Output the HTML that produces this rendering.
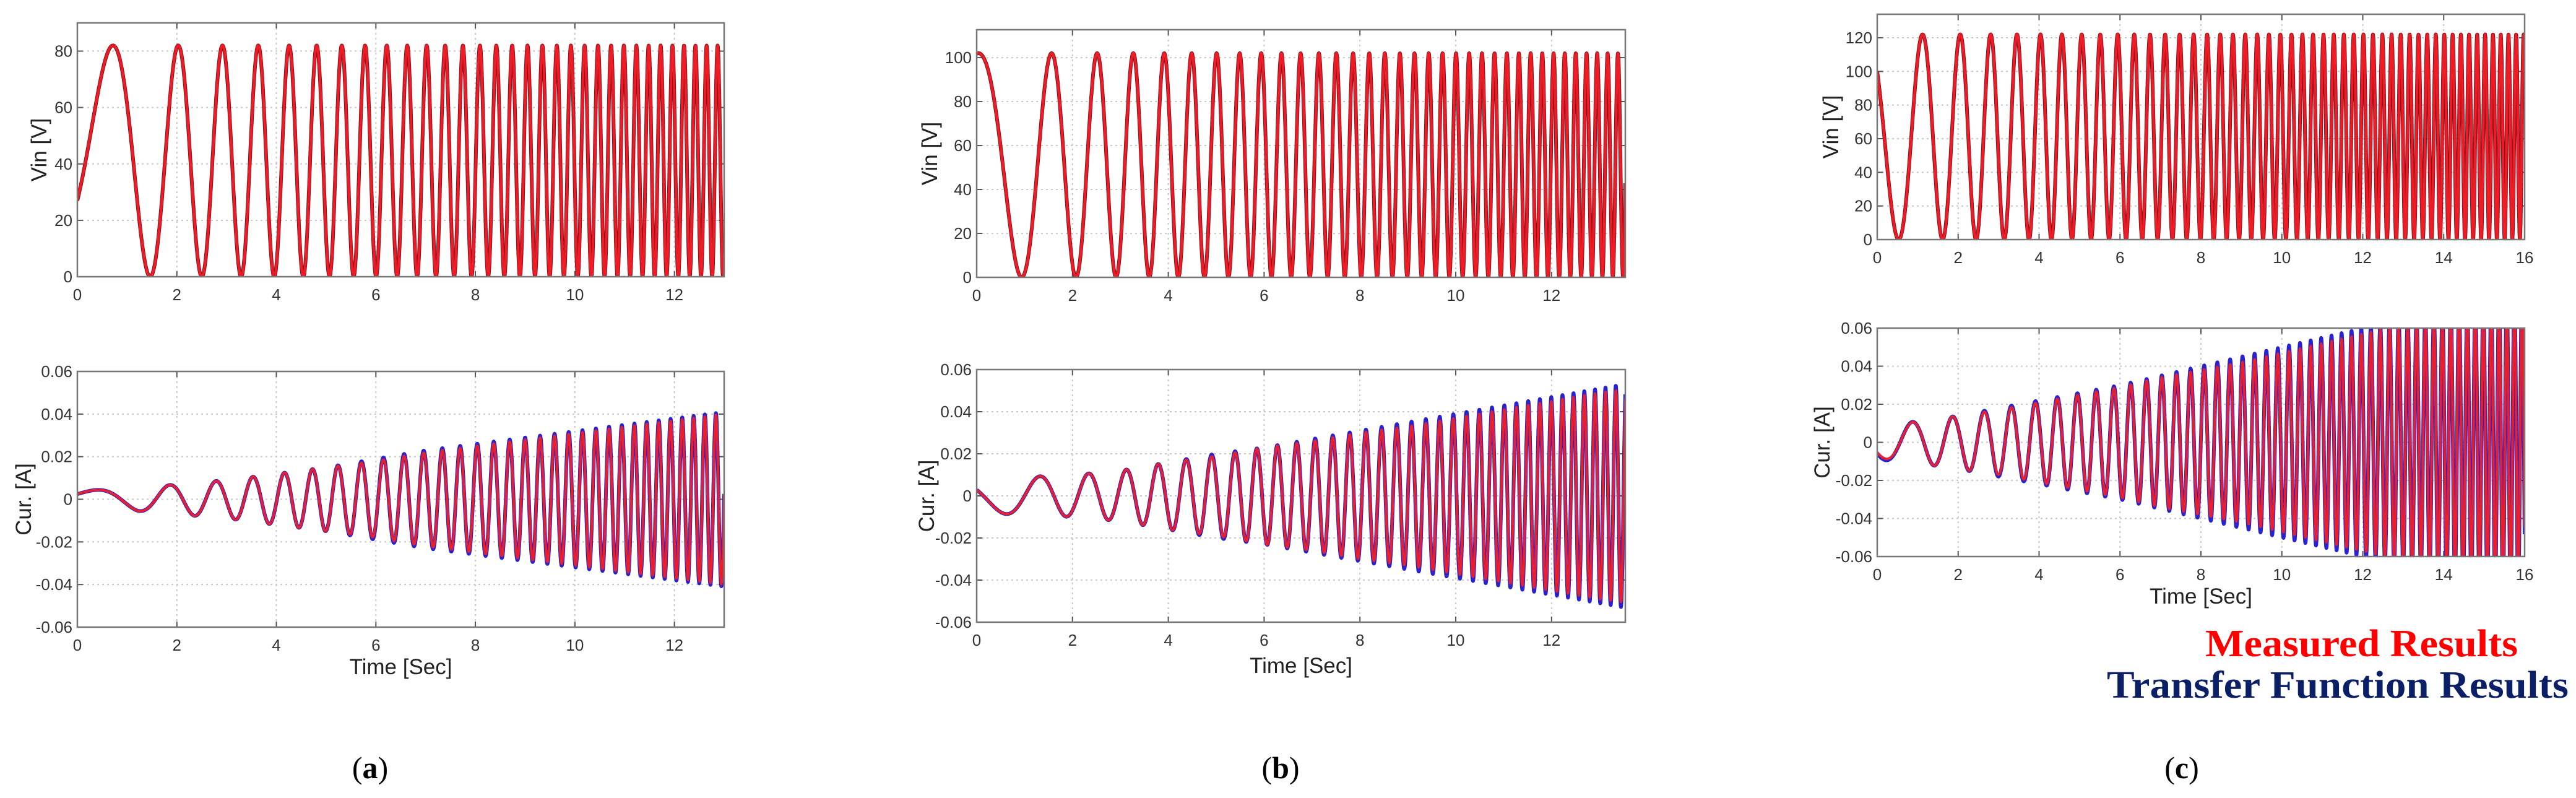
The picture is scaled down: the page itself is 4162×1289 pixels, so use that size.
<!DOCTYPE html>
<html><head><meta charset="utf-8">
<style>
html,body{margin:0;padding:0;background:#fff;}
svg{display:block;}
.tk{font-family:"Liberation Sans",Arial,sans-serif;font-size:26px;fill:#333;}
.at{font-family:"Liberation Sans",Arial,sans-serif;font-size:35px;fill:#222;}
.pl{font-family:"Liberation Serif",serif;font-size:50px;fill:#000;}
.lg{font-family:"Liberation Serif",serif;font-weight:bold;font-size:62px;}
</style></head>
<body>
<svg id="fig" width="4162" height="1289" viewBox="0 0 4162 1289" xmlns="http://www.w3.org/2000/svg">
<text class="lg" x="4068" y="1060" text-anchor="end" fill="#ff0000" textLength="505" lengthAdjust="spacingAndGlyphs">Measured Results</text>
<text class="lg" x="4150" y="1127" text-anchor="end" fill="#0a1f66" textLength="746" lengthAdjust="spacingAndGlyphs">Transfer Function Results</text>
<text class="pl" x="598" y="1257" text-anchor="middle">(<tspan font-weight="bold">a</tspan>)</text>
<text class="pl" x="2069" y="1257" text-anchor="middle">(<tspan font-weight="bold">b</tspan>)</text>
<text class="pl" x="3525" y="1257" text-anchor="middle">(<tspan font-weight="bold">c</tspan>)</text>
</svg>
<script>
// ---- data ----
const vinTicksA = [0,20,40,60,80];
const vinTicksB = [0,20,40,60,80,100];
const vinTicksC = [0,20,40,60,80,100,120];
const curTicks = [-0.06,-0.04,-0.02,0,0.02,0.04,0.06];
const curTickLabels = ["-0.06","-0.04","-0.02","0","0.02","0.04","0.06"];
const timeTicksA = [0,2,4,6,8,10,12];
const timeTicksB = [0,2,4,6,8,10,12];
const timeTicksC = [0,2,4,6,8,10,12,14,16];
// sweep frequency (Hz) at t = 0,1,2,... seconds
const freqA = [0.31,0.64,0.97,1.30,1.63,1.96,2.29,2.62,2.95,3.28,3.61,3.94,4.27,4.60];
const freqB = [0.40,0.72,1.04,1.36,1.68,2.00,2.32,2.64,2.96,3.28,3.60,3.92,4.24,4.56,4.88];
const freqC = [0.60,0.90,1.20,1.50,1.80,2.10,2.40,2.70,3.00,3.30,3.60,3.90,4.20,4.50,4.80,5.10,5.40];
// input voltage min/max (V)
const vinRangeA = [0,82];
const vinRangeB = [0,102];
const vinRangeC = [0,122];
// current amplitude envelopes (A) at t = 0,1,2,...
const curMeasA = [0.004,0.005,0.007,0.009,0.012,0.015,0.018,0.022,0.025,0.028,0.031,0.034,0.037,0.040];
const curTfA   = [0.004,0.005,0.007,0.009,0.012,0.015,0.019,0.023,0.026,0.029,0.032,0.035,0.038,0.041];
const curMeasB = [0.008,0.009,0.010,0.012,0.016,0.019,0.023,0.026,0.030,0.033,0.037,0.041,0.045,0.049,0.052];
const curTfB   = [0.008,0.009,0.010,0.012,0.016,0.020,0.023,0.027,0.031,0.035,0.039,0.043,0.047,0.051,0.055];
const curMeasC = [0.008,0.011,0.014,0.017,0.021,0.025,0.029,0.034,0.038,0.042,0.047,0.052,0.057,0.062,0.066,0.070,0.074];
const curTfC   = [0.009,0.011,0.014,0.018,0.022,0.026,0.030,0.035,0.040,0.045,0.050,0.055,0.060,0.065,0.070,0.075,0.080];
// initial phases (rad) and current lead (rad)
const phaseA = [-0.35, 1.0];
const phaseB = [1.47, 1.3];
const phaseC = [2.45, 1.4];

// ---- layout ----
const NS = "http://www.w3.org/2000/svg";
const svg = document.getElementById('fig');
const panels = [
 {id:'a', xmax:13, top:{L:125,R:1170,T:37,B:447,ymax:90}, bot:{L:125,R:1170,T:600,B:1013}, timeY:1089,
  freq:freqA, vr:vinRangeA, vt:vinTicksA, xt:timeTicksA, cm:curMeasA, ct:curTfA, ph:phaseA, vinLabX:63, curLabX:38},
 {id:'b', xmax:13.54, top:{L:1578,R:2626,T:48,B:448,ymax:112.7}, bot:{L:1578,R:2626,T:597,B:1005}, timeY:1087,
  freq:freqB, vr:vinRangeB, vt:vinTicksB, xt:timeTicksB, cm:curMeasB, ct:curTfB, ph:phaseB, vinLabX:1502, curLabX:1497},
 {id:'c', xmax:16, top:{L:3033,R:4079,T:23,B:387,ymax:134}, bot:{L:3033,R:4079,T:530,B:899}, timeY:975,
  freq:freqC, vr:vinRangeC, vt:vinTicksC, xt:timeTicksC, cm:curMeasC, ct:curTfC, ph:phaseC, vinLabX:2958, curLabX:2944}
];

function mk(tag, attrs, parent){
  const e = document.createElementNS(NS, tag);
  for (const k in attrs) e.setAttribute(k, attrs[k]);
  (parent||svg).appendChild(e);
  return e;
}
function interp(arr, t){
  const i = Math.min(Math.floor(t), arr.length-2);
  const f = t - i;
  return arr[i]*(1-f) + arr[i+1]*f;
}

function axes(p, box, ymin, ymax, yt, ylabels, xt, name){
  const sx = t => box.L + (t/p.xmax)*(box.R-box.L);
  const sy = v => box.B - (v-ymin)/(ymax-ymin)*(box.B-box.T);
  const g = mk('g', {});
  
  
  mk('rect', {x:box.L, y:box.T, width:box.R-box.L, height:box.B-box.T, fill:'#fff'}, g);
  xt.forEach(t => {
    const l = mk('line', {x1:sx(t), x2:sx(t), y1:box.T, y2:box.B, stroke:'#c8c8c8', 'stroke-width':2, 'stroke-dasharray':'3 5'}, g);
    
    
    mk('line', {x1:sx(t), x2:sx(t), y1:box.B, y2:box.B-9, stroke:'#555', 'stroke-width':2}, g);
    mk('line', {x1:sx(t), x2:sx(t), y1:box.T, y2:box.T+9, stroke:'#555', 'stroke-width':2}, g);
    const tx = mk('text', {x:sx(t), y:box.B+38, 'text-anchor':'middle', class:'tk'}, g);
    tx.textContent = String(t);
    
    
  });
  yt.forEach((v,i) => {
    const l = mk('line', {x1:box.L, x2:box.R, y1:sy(v), y2:sy(v), stroke:'#c8c8c8', 'stroke-width':2, 'stroke-dasharray':'3 5'}, g);
    
    
    mk('line', {x1:box.L, x2:box.L+9, y1:sy(v), y2:sy(v), stroke:'#555', 'stroke-width':2}, g);
    mk('line', {x1:box.R, x2:box.R-9, y1:sy(v), y2:sy(v), stroke:'#555', 'stroke-width':2}, g);
    const tx = mk('text', {x:box.L-8, y:sy(v)+9, 'text-anchor':'end', class:'tk'}, g);
    tx.textContent = ylabels[i];
    
    
  });
  const cid = 'clip-'+name;
  const cp = mk('clipPath', {id:cid}, g);
  mk('rect', {x:box.L, y:box.T, width:box.R-box.L, height:box.B-box.T}, cp);
  return {sx, sy, g, cid};
}

function series(p, ax, fn, color, width, name){
  const dt = 0.004;
  let phase = p.ph[0];
  let d = '';
  for (let t = 0; t <= p.xmax + 1e-9; t += dt){
    const v = fn(t, phase);
    d += (d ? 'L' : 'M') + ax.sx(t).toFixed(1) + ' ' + ax.sy(v).toFixed(1);
    phase += 2*Math.PI*interp(p.freq, t)*dt;
  }
  const path = mk('path', {d, fill:'none', stroke:color, 'stroke-width':width, 'stroke-linejoin':'round', 'clip-path':'url(#'+ax.cid+')'}, ax.g);
  
  
}

panels.forEach(p => {
  const vax = axes(p, p.top, 0, p.top.ymax, p.vt, p.vt.map(String), p.xt, 'vin-'+p.id);
  const off = (p.vr[0]+p.vr[1])/2, amp = (p.vr[1]-p.vr[0])/2;
  series(p, vax, (t,ph) => off + amp*Math.sin(ph), '#8a1020', 6, 'vin-dark-'+p.id);
  series(p, vax, (t,ph) => off + amp*Math.sin(ph), '#ee1c24', 4, 'vin-line-'+p.id);
  mk('rect', {x:p.top.L, y:p.top.T, width:p.top.R-p.top.L, height:p.top.B-p.top.T, fill:'none', stroke:'#777', 'stroke-width':2.5}, vax.g);
  const cax = axes(p, p.bot, -0.06, 0.06, curTicks, curTickLabels, p.xt, 'cur-'+p.id);
  series(p, cax, (t,ph) => interp(p.ct, t)*Math.sin(ph + p.ph[1]), '#2a22d0', 6, 'cur-transfer-function-'+p.id);
  series(p, cax, (t,ph) => interp(p.cm, t)*Math.sin(ph + p.ph[1]), '#e8202e', 4, 'cur-measured-'+p.id);
  mk('rect', {x:p.bot.L, y:p.bot.T, width:p.bot.R-p.bot.L, height:p.bot.B-p.bot.T, fill:'none', stroke:'#777', 'stroke-width':2.5}, cax.g);
  const vy = (p.top.T+p.top.B)/2, cy = (p.bot.T+p.bot.B)/2;
  const vl = mk('text', {x:p.vinLabX, y:vy, class:'at', 'text-anchor':'middle', transform:'rotate(-90 '+p.vinLabX+' '+vy+')', dy:'12'});
  vl.textContent = 'Vin [V]';
  
  
  const cl = mk('text', {x:p.curLabX, y:cy, class:'at', 'text-anchor':'middle', transform:'rotate(-90 '+p.curLabX+' '+cy+')', dy:'12'});
  cl.textContent = 'Cur. [A]';
  
  
  const tl = mk('text', {x:(p.bot.L+p.bot.R)/2, y:p.timeY, class:'at', 'text-anchor':'middle'});
  tl.textContent = 'Time [Sec]';
  
  
});
</script>
</body></html>
